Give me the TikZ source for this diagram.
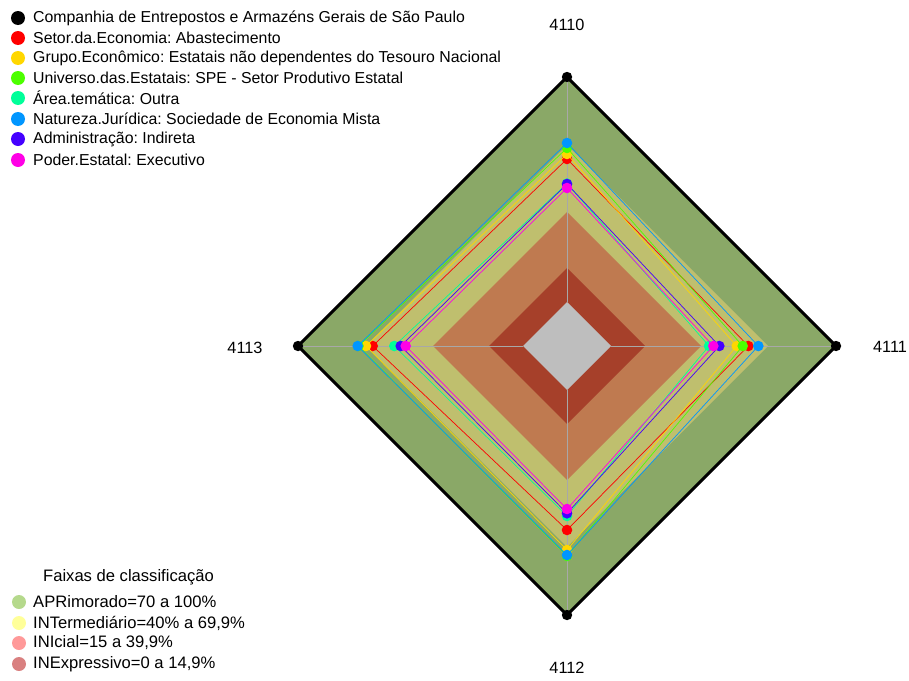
\documentclass[tikz,border=0pt]{standalone}
\usepackage{fontspec}
\setmainfont{Liberation Sans}
\frenchspacing
\definecolor{bandG}{HTML}{8AA867}
\definecolor{bandY}{HTML}{BFBF6E}
\definecolor{bandO}{HTML}{BF7A50}
\definecolor{bandR}{HTML}{A6402A}
\definecolor{bandC}{HTML}{BEBEBE}
\definecolor{axisgray}{HTML}{A8A8A8}
\definecolor{sRed}{HTML}{FF0000}
\definecolor{sYel}{HTML}{FFD700}
\definecolor{sGrn}{HTML}{4CFF00}
\definecolor{sTeal}{HTML}{00FF99}
\definecolor{sBlue}{HTML}{0096FF}
\definecolor{sPur}{HTML}{4400FF}
\definecolor{sMag}{HTML}{FF00E6}
\definecolor{lgG}{HTML}{B5D98C}
\definecolor{lgY}{HTML}{FFFF99}
\definecolor{lgP}{HTML}{FF9999}
\definecolor{lgR}{HTML}{D98080}
\begin{document}
\begin{tikzpicture}[x=1pt,y=-1pt,
  txt/.style={inner sep=0pt,font=\fontsize{15.85}{18}\selectfont},
  txtb/.style={inner sep=0pt,font=\fontsize{16.6}{19}\selectfont},
  axl/.style={inner sep=0pt,font=\fontsize{16.3}{19}\selectfont},
  lgdot/.style={circle,inner sep=0pt,minimum size=14pt},
  serline/.style={draw=#1,line width=0.7pt}]
\useasboundingbox (0,0) rectangle (909,680);
\begin{scope}[shift={(567,346)}]
  \fill[bandG] (0,-269) -- (269,0) -- (0,269) -- (-269,0) -- cycle;
  \fill[bandY] (0,-201) -- (201,0) -- (0,201) -- (-201,0) -- cycle;
  \fill[bandO] (0,-134) -- (134,0) -- (0,134) -- (-134,0) -- cycle;
  \fill[bandR] (0,-78) -- (78,0) -- (0,78) -- (-78,0) -- cycle;
  \fill[bandC] (0,-44) -- (44,0) -- (0,44) -- (-44,0) -- cycle;
  \foreach \a/\b in {0/-1,1/0,0/1,-1/0}
    \draw[axisgray,line width=0.8pt] (44*\a,44*\b) -- (269*\a,269*\b);
  % black series (100%)
  \draw[black,line width=3pt,line join=miter] (0,-269) -- (269,0) -- (0,269) -- (-269,0) -- cycle;
  \foreach \p in {(0,-269),(269,0),(0,269),(-269,0)} \fill[black] \p circle (5.2);
  % series: top, right, bottom, left radii
  \foreach \c/\t/\r/\b/\l in {sRed/187/181.3/184/194.3, sYel/192/169.7/204/201, sGrn/198/175.7/210/208.5, sTeal/162.5/142/170/172.7, sBlue/203/191.3/209/209.3, sPur/162/152.3/167.3/166.3, sMag/158/146.3/163/161.3}{
    \draw[serline=\c] (0,-\t) -- (\r,0) -- (0,\b) -- (-\l,0) -- cycle;
    \fill[\c] (0,-\t) circle (5.3) (\r,0) circle (5.3) (0,\b) circle (5.3) (-\l,0) circle (5.3);
  }
\end{scope}
% axis labels
\node[axl] (a1) at (567,25) {4110};
\node[axl] (a2) at (890,347) {4111};
\node[axl] (a3) at (567,668) {4112};
\node[axl] (a4) at (245,348) {4113};
% series legend
\foreach \c/\y/\t [count=\i] in {black/18/{Companhia de Entrepostos e Armazéns Gerais de São Paulo},
  sRed/38/{Setor.da.Economia: Abastecimento},
  sYel/58/{Grupo.Econômico: Estatais não dependentes do Tesouro Nacional},
  sGrn/78/{Universo.das.Estatais: SPE - Setor Produtivo Estatal},
  sTeal/98/{Área.temática: Outra},
  sBlue/119/{Natureza.Jurídica: Sociedade de Economia Mista},
  sPur/139/{Administração: Indireta},
  sMag/160/{Poder.Estatal: Executivo}}{
  \node[lgdot,fill=\c] (ld\i) at (18,\y) {};
  \node[txt,anchor=west] (lt\i) at (33,\y) {\t};
}
% bands legend
\node[txtb] (lgtitle) at (128.5,577) {Faixas de classificação};
\foreach \c/\y/\t [count=\i] in {lgG/602/{APRimorado=70 a 100\%},
  lgY/623/{INTermediário=40\% a 69,9\%},
  lgP/643/{INIcial=15 a 39,9\%},
  lgR/664/{INExpressivo=0 a 14,9\%}}{
  \node[lgdot,fill=\c] (bd\i) at (19,\y) {};
  \node[txtb,anchor=west] (bt\i) at (33,\y) {\t};
}
\end{tikzpicture}
\end{document}
